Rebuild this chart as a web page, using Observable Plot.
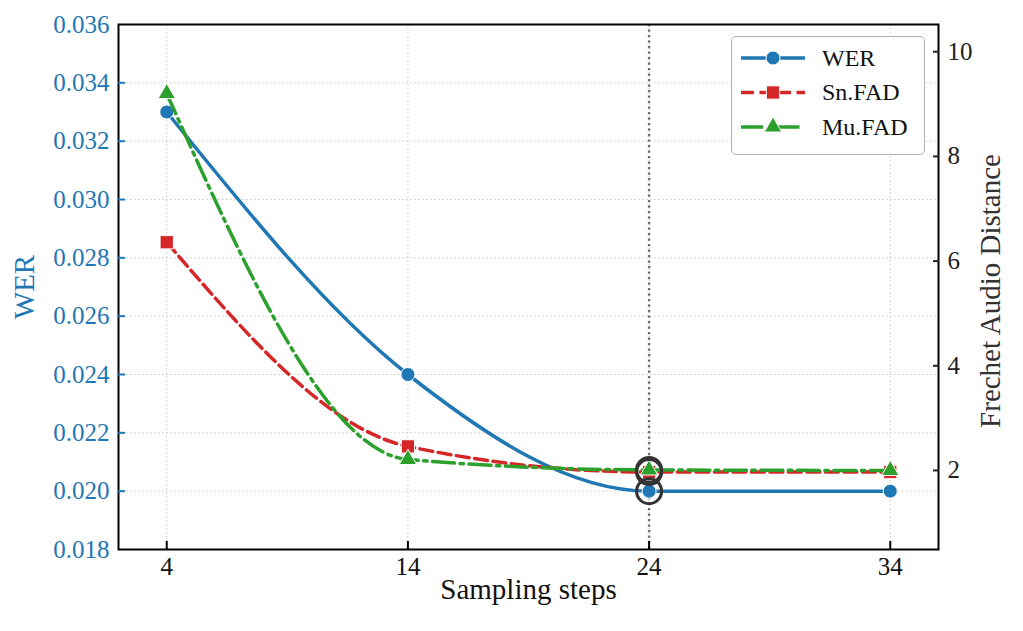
<!DOCTYPE html>
<html><head><meta charset="utf-8">
<script src="https://cdn.jsdelivr.net/npm/d3@7"></script>
<script src="https://cdn.jsdelivr.net/npm/@observablehq/plot@0.6"></script>
<style>
body{margin:0;background:#fff;}
#wrap{position:relative;width:1023px;height:631px;font-family:"Liberation Serif",serif;}
#wrap svg text{font-family:"Liberation Serif",serif !important;font-variant-numeric:normal !important;}
#legend{position:absolute;left:731px;top:36px;width:194px;height:119px;border:1.6px solid #b0b0b0;border-radius:5px;background:rgba(255,255,255,0.85);box-sizing:border-box;}
</style></head><body><div id="wrap"></div>
<script>
// ---- data ----
const steps = [4, 14, 24, 34];
const werValues = [0.0330, 0.0240, 0.0200, 0.0200];
const snFadValues = [6.36, 2.46, 1.97, 1.97];
const muFadValues = [9.20, 2.21, 2.01, 2.00];
const werTicks = [0.018, 0.020, 0.022, 0.024, 0.026, 0.028, 0.030, 0.032, 0.034, 0.036];
const fadTicks = [2, 4, 6, 8, 10];
const xTicks = [4, 14, 24, 34];
const highlightStep = 24;
const xDomain = [2, 36];
const werDomain = [0.018, 0.036];
const fadDomain = [0.49, 10.52];
const seriesNames = ["WER", "Sn.FAD", "Mu.FAD"];
const colors = {"WER": "#1f77b4", "Sn.FAD": "#d62728", "Mu.FAD": "#2ca02c"};
const labelX = "Sampling steps", labelLeft = "WER", labelRight = "Frechet Audio Distance";

// map FAD (right axis) into WER units (left axis) so both share one y scale
const toWer = f => werDomain[0] + (f - fadDomain[0]) / (fadDomain[1] - fadDomain[0]) * (werDomain[1] - werDomain[0]);
const fromWer = w => fadDomain[0] + (w - werDomain[0]) / (werDomain[1] - werDomain[0]) * (fadDomain[1] - fadDomain[0]);

const werRows = steps.map((s, i) => ({step: s, y: werValues[i]}));
const snRows = steps.map((s, i) => ({step: s, y: toWer(snFadValues[i])}));
const muRows = steps.map((s, i) => ({step: s, y: toWer(muFadValues[i])}));
const hlRows = [werRows, snRows, muRows].map(r => r.find(d => d.step === highlightStep));

const FONT = "Liberation Serif";
const tickFont = 25, labelFont = 29;
const LW = 3.5;
const dashes = {"WER": null, "Sn.FAD": "13,5.5", "Mu.FAD": "22,5.5,3.5,5.5"};
const txt = {fontFamily: FONT, fontVariant: "normal", fontSize: tickFont};

const chart = Plot.plot({
  width: 1023, height: 631,
  marginLeft: 118, marginRight: 85, marginTop: 24, marginBottom: 82,
  style: {fontFamily: FONT, background: "white", overflow: "visible"},
  x: {domain: xDomain},
  y: {domain: werDomain},
  marks: [
    Plot.gridX(xTicks, {stroke: "#c8c8c8", strokeOpacity: 1, strokeWidth: 1, strokeDasharray: "1.5,2.5"}),
    Plot.gridY(werTicks, {stroke: "#c8c8c8", strokeOpacity: 1, strokeWidth: 1, strokeDasharray: "1.5,2.5"}),
    Plot.ruleX([highlightStep], {stroke: "#6e6e6e", strokeWidth: 2.4, strokeDasharray: "2.2,3.3"}),
    // WER
    Plot.line(werRows, {x: "step", y: "y", stroke: colors["WER"], strokeWidth: LW, curve: "monotone-x"}),
    Plot.dot(werRows, {x: "step", y: "y", r: 7, fill: colors["WER"], stroke: "white", strokeWidth: 1}),
    // Sn.FAD
    Plot.line(snRows, {x: "step", y: "y", stroke: colors["Sn.FAD"], strokeWidth: LW, strokeDasharray: dashes["Sn.FAD"], curve: "monotone-x"}),
    Plot.dot(snRows, {x: "step", y: "y", symbol: "square", r: 7.5, fill: colors["Sn.FAD"], stroke: "white", strokeWidth: 1}),
    // Mu.FAD
    Plot.line(muRows, {x: "step", y: "y", stroke: colors["Mu.FAD"], strokeWidth: LW, strokeDasharray: dashes["Mu.FAD"], curve: "monotone-x"}),
    Plot.dot(muRows, {x: "step", y: "y", symbol: "triangle", r: 6.5, fill: colors["Mu.FAD"], stroke: "white", strokeWidth: 1}),
    // highlight rings
    Plot.dot(hlRows, {x: "step", y: "y", r: 12.5, fill: "none", stroke: "#333", strokeWidth: 3}),
    Plot.frame({stroke: "black", strokeWidth: 2}),
    // left axis (WER): labels via text mark on the y scale, inward ticks via axis
    Plot.text(werTicks, {y: d => d, text: d => d.toFixed(3), frameAnchor: "left", textAnchor: "end", dx: -9, fill: colors["WER"], ...txt}),
    Plot.axisY(werTicks.slice(1, -1), {anchor: "left", tickSize: -7, tickFormat: () => "", stroke: colors["WER"], strokeWidth: 2, label: null}),
    // right axis (FAD)
    Plot.text(fadTicks, {y: d => toWer(d), text: d => String(d), frameAnchor: "right", textAnchor: "start", dx: 9, fill: "#222", ...txt}),
    Plot.axisY(fadTicks.map(toWer), {anchor: "right", tickSize: -6, tickFormat: () => "", stroke: "#222", strokeWidth: 2, label: null}),
    // x axis
    Plot.text(xTicks, {x: d => d, text: d => String(d), frameAnchor: "bottom", lineAnchor: "top", dy: 8, fill: "#111", ...txt}),
    Plot.axisX(xTicks, {anchor: "bottom", tickSize: -8, tickFormat: () => "", stroke: "black", strokeWidth: 2, label: null}),
    // axis titles
    Plot.text([labelX], {frameAnchor: "bottom", dy: 29, lineAnchor: "top", textAnchor: "middle", fontSize: labelFont, fontFamily: FONT, fill: "#111"}),
    Plot.text([labelLeft], {frameAnchor: "left", dx: -94, rotate: -90, lineAnchor: "middle", textAnchor: "middle", fontSize: labelFont, fontFamily: FONT, fill: colors["WER"]}),
    Plot.text([labelRight], {frameAnchor: "right", dx: 52, dy: 4, rotate: -90, lineAnchor: "middle", textAnchor: "middle", fontSize: labelFont, fontFamily: FONT, fill: "#333"})
  ]
});
const wrap = document.getElementById("wrap");
wrap.appendChild(chart);

// ---- legend (HTML overlay with small inline SVG samples) ----
const legend = d3.select(wrap).append("div").attr("id", "legend");
const lsvg = legend.append("svg").attr("width", 194).attr("height", 119).style("position", "absolute").style("left", "-1.6px").style("top", "-1.6px");
const shapes = {"WER": d3.symbolCircle, "Sn.FAD": d3.symbolSquare, "Mu.FAD": d3.symbolTriangle};
const sizes = {"WER": Math.PI * 49, "Sn.FAD": Math.PI * 7.5 * 7.5, "Mu.FAD": Math.PI * 6.5 * 6.5};
seriesNames.forEach((name, i) => {
  const cy = 23 + i * 34.5;
  const g = lsvg.append("g").attr("transform", `translate(0,${cy})`);
  g.append("line").attr("x1", 11).attr("x2", 75).attr("y1", 0).attr("y2", 0)
    .attr("stroke", colors[name]).attr("stroke-width", LW).attr("stroke-dasharray", dashes[name]);
  g.append("path").attr("transform", "translate(43,0)").attr("d", d3.symbol(shapes[name], sizes[name])())
    .attr("fill", colors[name]).attr("stroke", "white").attr("stroke-width", 1);
  g.append("text").attr("x", 92).attr("y", 0).attr("dy", "0.33em").attr("font-size", 24)
    .attr("font-family", FONT).attr("fill", "#111").text(name);
});
</script></body></html>
